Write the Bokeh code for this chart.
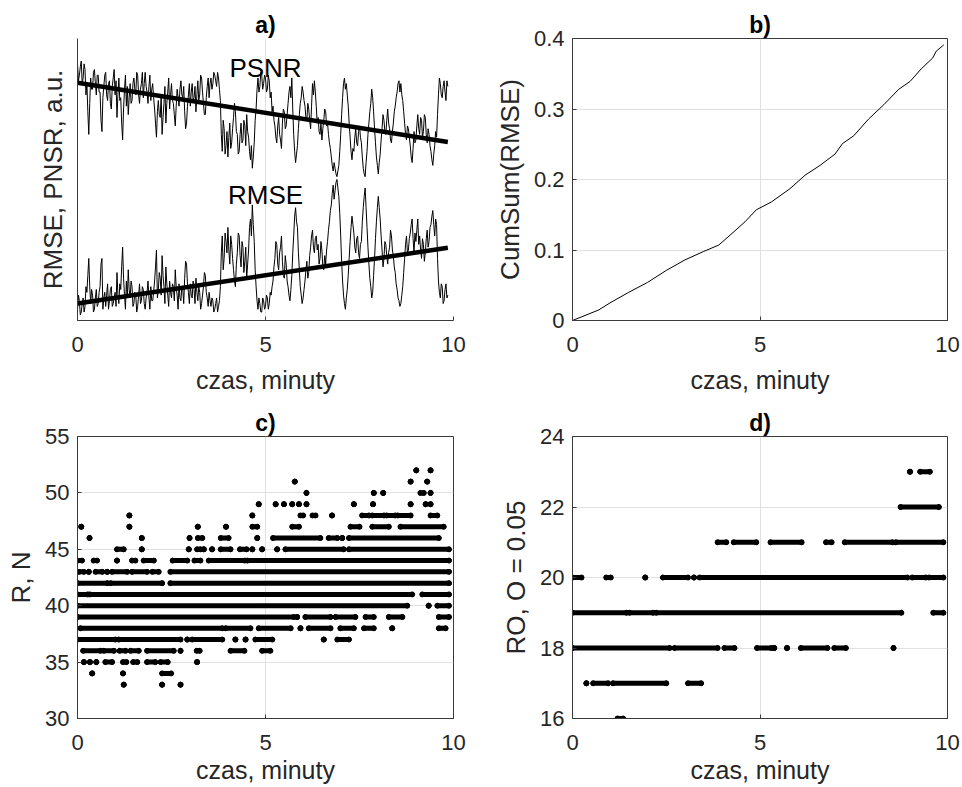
from bokeh.plotting import figure
from bokeh.layouts import gridplot
from bokeh.models import Range1d, FixedTicker, Label, ColumnDataSource
from bokeh.embed import file_html
from bokeh.resources import INLINE

FONT = "Liberation Sans"
AX = "#3a3a3a"
GRID = "#e0e0e0"

# ---------------- panel a) : RMSE and PSNR (a.u.) sampled every 0.025 min ----------------
rmse = [4, 9, 7, 2, 3, 6, 8, 3, 5, 12, 10, 16, 22, 12, 6, 11, 9, 3, 4, 8,
        11, 5, 6, 10, 12, 20, 22, 4, 8, 10, 5, 9, 13, 4, 7, 11, 12, 5, 6, 8,
        10, 5, 17, 9, 6, 13, 11, 19, 26, 15, 9, 4, 14, 8, 18, 11, 8, 14, 12, 5,
        6, 10, 9, 3, 5, 9, 13, 6, 7, 12, 11, 6, 4, 8, 10, 14, 8, 4, 12, 7,
        7, 10, 14, 19, 25, 8, 11, 17, 15, 9, 23, 16, 12, 6, 19, 13, 9, 5, 14, 10,
        8, 13, 12, 7, 18, 12, 9, 4, 13, 8, 7, 12, 11, 6, 15, 21, 20, 13, 10, 6,
        13, 9, 8, 14, 11, 6, 15, 10, 7, 12, 10, 4, 6, 9, 12, 17, 16, 10, 8, 5,
        10, 7, 5, 8, 7, 3, 4, 6, 8, 3, 5, 7, 12, 24, 30, 18, 22, 31, 28, 24,
        33, 25, 20, 30, 27, 22, 18, 14, 12, 20, 24, 31, 30, 23, 19, 28, 26, 17, 21, 26,
        15, 20, 25, 33, 36, 30, 41, 34, 28, 18, 12, 7, 4, 8, 6, 3, 3, 8, 7, 4,
        5, 9, 8, 4, 6, 10, 9, 12, 14, 19, 22, 28, 27, 20, 18, 24, 26, 30, 21, 16,
        15, 23, 20, 14, 12, 9, 7, 11, 16, 24, 30, 37, 40, 35, 33, 24, 18, 12, 9, 6,
        8, 11, 14, 18, 21, 15, 17, 23, 26, 30, 32, 26, 24, 29, 30, 25, 27, 20, 22, 28,
        25, 19, 18, 23, 20, 25, 28, 32, 35, 39, 41, 45, 48, 43, 46, 49, 50, 47, 44, 38,
        30, 21, 14, 9, 6, 4, 8, 11, 16, 22, 28, 33, 37, 34, 31, 26, 24, 29, 30, 24,
        22, 27, 28, 35, 40, 44, 47, 40, 33, 26, 20, 15, 12, 8, 10, 16, 22, 29, 35, 40,
        44, 40, 36, 30, 25, 19, 22, 28, 27, 23, 20, 24, 26, 32, 30, 25, 23, 19, 17, 13,
        11, 8, 7, 5, 6, 9, 12, 17, 22, 27, 30, 24, 25, 29, 31, 34, 36, 29, 24, 31,
        28, 32, 36, 27, 30, 25, 22, 29, 27, 21, 24, 29, 32, 26, 28, 33, 34, 37, 39, 34,
        30, 36, 34, 22, 14, 10, 8, 13, 12, 6, 7, 11, 13, 8, 9]
psnr = [91, 85, 87, 90, 92, 84, 86, 91, 89, 80, 84, 74, 66, 77, 86, 82, 82, 88, 89, 84,
        80, 87, 87, 81, 81, 71, 67, 79, 83, 87, 88, 80, 78, 84, 85, 77, 75, 83, 86, 89,
        80, 85, 72, 80, 86, 78, 79, 70, 64, 75, 82, 87, 76, 83, 73, 79, 84, 77, 78, 84,
        86, 82, 80, 88, 87, 80, 77, 82, 84, 88, 79, 84, 88, 83, 81, 77, 83, 87, 78, 82,
        84, 79, 75, 70, 65, 74, 78, 73, 72, 80, 66, 72, 77, 83, 70, 77, 81, 86, 75, 80,
        84, 78, 77, 73, 69, 76, 82, 79, 76, 82, 85, 80, 79, 83, 74, 68, 70, 76, 80, 84,
        76, 81, 84, 78, 79, 83, 74, 80, 85, 78, 80, 87, 86, 81, 77, 73, 73, 79, 83, 86,
        79, 84, 86, 82, 84, 88, 87, 85, 83, 88, 86, 82, 78, 66, 60, 71, 68, 59, 62, 67,
        58, 65, 70, 61, 63, 68, 72, 77, 74, 67, 66, 59, 60, 66, 70, 63, 64, 71, 69, 62,
        73, 67, 65, 60, 57, 62, 54, 58, 63, 71, 75, 82, 86, 81, 83, 88, 87, 82, 84, 87,
        86, 81, 82, 87, 85, 79, 81, 74, 76, 71, 69, 65, 63, 69, 72, 66, 64, 61, 70, 75,
        74, 68, 69, 73, 77, 81, 83, 79, 86, 75, 66, 60, 56, 59, 62, 68, 73, 77, 79, 83,
        81, 78, 76, 72, 71, 77, 75, 71, 68, 76, 84, 80, 85, 81, 76, 70, 72, 67, 66, 70,
        64, 68, 71, 75, 74, 69, 70, 66, 63, 61, 58, 55, 53, 56, 54, 52, 51, 53, 55, 60,
        66, 73, 79, 84, 86, 82, 84, 80, 76, 70, 65, 60, 57, 61, 60, 65, 68, 63, 62, 67,
        69, 65, 63, 58, 54, 52, 51, 56, 60, 66, 70, 74, 77, 82, 79, 74, 68, 63, 58, 55,
        52, 56, 59, 64, 68, 73, 71, 67, 66, 71, 75, 70, 68, 64, 63, 67, 70, 74, 76, 79,
        81, 84, 85, 81, 84, 80, 78, 74, 70, 66, 64, 69, 68, 65, 62, 58, 56, 61, 67, 63,
        64, 69, 73, 68, 66, 72, 71, 65, 67, 73, 72, 66, 63, 68, 66, 62, 60, 57, 55, 59,
        62, 67, 65, 73, 80, 86, 84, 80, 79, 83, 85, 81, 78, 85, 83]
t_a = [round(i * 0.025, 3) for i in range(len(rmse))]
trend_t = [0.0, 9.85]
trend_psnr = [84.3, 63.3]
trend_rmse = [6.0, 25.8]

# ---------------- panel b) : cumulative sum of RMSE ----------------
cum_t = [0, 0.7, 1.0, 1.5, 2.0, 2.5, 3.0, 3.5, 3.9, 4.2, 4.6, 4.9, 5.3, 5.8, 6.2,
         6.6, 7.0, 7.2, 7.5, 7.9, 8.3, 8.7, 9.0, 9.3, 9.6, 9.7, 9.9]
cum_v = [0, 0.015, 0.025, 0.040, 0.054, 0.071, 0.086, 0.098, 0.107, 0.121, 0.140,
         0.157, 0.168, 0.187, 0.206, 0.220, 0.236, 0.251, 0.262, 0.286, 0.306, 0.328,
         0.339, 0.357, 0.372, 0.382, 0.391]

# ---------------- panel c) : R, N  (runs of samples at integer levels) ----------------
c_runs = {
    52: [(9.01, 9.01), (9.39, 9.39)],
    51: [(5.78, 5.78), (8.86, 8.86), (9.30, 9.30)],
    50: [(6.09, 6.09), (7.88, 7.88), (8.13, 8.13), (9.12, 9.21), (9.39, 9.39)],
    49: [(4.82, 4.82), (5.27, 5.27), (5.49, 5.49), (5.71, 5.71), (5.89, 5.89), (6.09, 6.09),
         (7.35, 7.35), (7.86, 7.86), (8.86, 8.86), (9.26, 9.26), (9.39, 9.39)],
    48: [(1.38, 1.38), (4.65, 4.65), (5.93, 6.0), (6.25, 6.33), (6.77, 6.77), (7.57, 7.75),
         (7.84, 8.15), (8.22, 8.45), (8.52, 8.86), (9.39, 9.57)],
    47: [(0.1, 0.1), (1.38, 1.38), (3.2, 3.2), (3.95, 3.95), (4.65, 4.78), (5.71, 5.89),
         (7.26, 7.5), (7.84, 8.28), (8.59, 9.74)],
    46: [(0.32, 0.32), (1.71, 1.71), (2.98, 2.98), (3.2, 3.32), (3.81, 4.02), (4.78, 4.78),
         (5.2, 6.46), (6.68, 6.91), (7.04, 7.04), (7.22, 9.61)],
    45: [(1.05, 1.23), (1.71, 1.71), (2.96, 2.96), (3.18, 3.27), (3.36, 3.36), (3.58, 3.58),
         (3.81, 4.07), (4.32, 4.5), (4.65, 4.65), (4.91, 4.91), (5.31, 5.31), (5.53, 7.08),
         (7.22, 9.88)],
    44: [(0.0, 0.12), (0.43, 0.52), (1.05, 1.05), (1.45, 1.54), (1.76, 2.03), (2.53, 2.92),
         (3.11, 3.27), (3.49, 4.45), (4.52, 9.88)],
    43: [(0.04, 0.17), (0.3, 0.3), (0.48, 0.66), (0.79, 0.79), (0.92, 1.32), (1.45, 1.85),
         (1.99, 2.16), (2.47, 9.88)],
    42: [(0.0, 0.79), (0.88, 2.25), (2.47, 9.88)],
    41: [(0.0, 0.27), (0.33, 8.9), (9.17, 9.88)],
    40: [(0.0, 8.77), (9.34, 9.34), (9.57, 9.88)],
    39: [(0.0, 5.75), (5.84, 5.84), (6.06, 6.73), (6.86, 7.39), (7.66, 7.88), (8.28, 8.64),
         (9.61, 9.88)],
    38: [(0.08, 3.85), (3.94, 4.6), (4.82, 5.67), (5.93, 5.93), (6.15, 6.73), (6.99, 7.35),
         (7.62, 7.88), (8.37, 8.37), (9.61, 9.79)],
    37: [(0.0, 1.01), (1.1, 2.74), (2.92, 2.92), (3.05, 3.85), (4.2, 4.2), (4.47, 4.47),
         (4.73, 5.18), (6.55, 6.55), (6.91, 7.22)],
    36: [(0.15, 0.61), (0.7, 0.97), (1.12, 1.28), (1.41, 1.63), (1.85, 2.56), (2.74, 2.74),
         (3.17, 3.25), (4.07, 4.44), (4.91, 5.13)],
    35: [(0.17, 0.17), (0.33, 0.33), (0.5, 0.5), (0.74, 0.92), (1.21, 1.3), (1.48, 1.59),
         (1.85, 2.07), (2.21, 2.4), (3.18, 3.18)],
    34: [(0.39, 0.39), (1.21, 1.21), (2.25, 2.49)],
    33: [(1.23, 1.23), (2.25, 2.25), (2.74, 2.74)],
}

# ---------------- panel d) : RO, O = 0.05 ----------------
d_runs = {
    23: [(9.0, 9.0), (9.27, 9.53)],
    22: [(8.75, 9.77)],
    21: [(3.87, 4.1), (4.3, 4.9), (5.28, 6.11), (6.76, 6.91), (7.26, 8.53), (8.62, 9.89)],
    20: [(0.0, 0.24), (0.9, 1.02), (1.94, 1.94), (2.41, 3.08), (3.24, 3.24), (3.39, 8.93),
         (9.06, 9.42), (9.51, 9.89)],
    19: [(0.0, 1.44), (1.52, 2.15), (2.23, 8.77), (9.62, 9.89)],
    18: [(0.0, 2.59), (2.72, 3.87), (4.05, 4.32), (4.92, 5.3), (5.38, 5.38), (5.72, 5.72),
         (6.09, 6.8), (6.98, 7.29), (8.56, 8.56)],
    17: [(0.37, 0.37), (0.55, 0.95), (1.08, 2.5), (3.08, 3.43)],
    16: [(1.2, 1.35)],
}

X_TICKS = [0, 5, 10]


def runs_source(runs):
    lv, x0, x1 = [], [], []
    for level, segs in runs.items():
        for a, b in segs:
            lv.append(level)
            x0.append(a)
            x1.append(b)
    return ColumnDataSource(dict(y=lv, x0=x0, x1=x1))


def make_fig(width, height, left, right, top, bottom, y_range, title, box=True):
    p = figure(width=width, height=height, x_range=Range1d(0, 10), y_range=y_range,
               output_backend="svg", toolbar_location=None, title=title,
               min_border_left=left, min_border_right=right,
               min_border_top=top, min_border_bottom=bottom)
    p.background_fill_color = "white"
    p.border_fill_color = "white"
    p.outline_line_color = AX if box else None
    p.outline_line_width = 1
    p.title.align = "center"
    p.title.text_font = FONT
    p.title.text_font_style = "bold"
    p.title.text_font_size = "23px"
    p.title.text_color = "black"
    p.title.standoff = 2
    for ax in (p.xaxis[0], p.yaxis[0]):
        ax.axis_line_color = AX
        ax.major_tick_line_color = AX
        ax.major_tick_in = 4
        ax.major_tick_out = 0
        ax.minor_tick_line_color = None
        ax.major_label_text_font = FONT
        ax.major_label_text_font_size = "22px"
        ax.major_label_text_color = "#262626"
        ax.axis_label_text_font = FONT
        ax.axis_label_text_font_style = "normal"
        ax.axis_label_text_color = "#262626"
    p.xaxis.ticker = FixedTicker(ticks=X_TICKS)
    p.xaxis.major_label_standoff = 16
    p.xaxis.axis_label = "czas, minuty"
    p.xaxis.axis_label_text_font_size = "25px"
    p.xaxis.axis_label_standoff = 11
    p.yaxis.major_label_standoff = 8
    p.yaxis.axis_label_standoff = 6
    p.yaxis.axis_label_text_font_size = "26px"
    p.xgrid.grid_line_color = GRID
    p.ygrid.grid_line_color = GRID
    return p


W1, W2 = 475, 486
H1, H2 = 396, 390

# a)
pa = make_fig(W1, H1, 77, 22, 38, 76, Range1d(0, 100), "a)", box=False)
pa.yaxis.ticker = FixedTicker(ticks=[])
pa.yaxis.axis_label = "RMSE, PNSR, a.u."
pa.yaxis.axis_label_standoff = 10
pa.ygrid.grid_line_color = None
pa.line(t_a, psnr, line_color="black", line_width=1)
pa.line(t_a, rmse, line_color="black", line_width=1)
pa.line(trend_t, trend_psnr, line_color="black", line_width=4.5)
pa.line(trend_t, trend_rmse, line_color="black", line_width=4.5)
pa.add_layout(Label(x=5.0, y=89.5, text="PSNR", text_align="center", text_baseline="middle",
                    text_font=FONT, text_font_size="26px", text_color="black"))
pa.add_layout(Label(x=5.0, y=44.5, text="RMSE", text_align="center", text_baseline="middle",
                    text_font=FONT, text_font_size="26px", text_color="black"))

# b)
pb = make_fig(W2, H1, 97, 14, 38, 76, Range1d(0, 0.4), "b)")
pb.yaxis.ticker = FixedTicker(ticks=[0, 0.1, 0.2, 0.3, 0.4])
pb.yaxis.major_label_overrides = {0: "0"}
pb.yaxis.axis_label = "CumSum(RMSE)"
pb.line(cum_t, cum_v, line_color="black", line_width=1)

# c)
pc = make_fig(W1, H2, 77, 22, 40, 68, Range1d(30, 55), "c)")
pc.yaxis.ticker = FixedTicker(ticks=[30, 35, 40, 45, 50, 55])
pc.yaxis.axis_label = "R, N"
pc.yaxis.axis_label_standoff = 6
pc.xaxis.axis_label_standoff = 3
srcc = runs_source(c_runs)
pc.segment(x0="x0", y0="y", x1="x1", y1="y", source=srcc, line_color="black",
           line_width=5, line_cap="round")
pc.scatter(x="x0", y="y", source=srcc, size=5, color="black")
pc.scatter(x="x1", y="y", source=srcc, size=5, color="black")

# d)
pd_ = make_fig(W2, H2, 97, 14, 40, 68, Range1d(16, 24), "d)")
pd_.yaxis.ticker = FixedTicker(ticks=[16, 18, 20, 22, 24])
pd_.yaxis.axis_label = "RO, O = 0.05"
pd_.xaxis.axis_label_standoff = 3
srcd = runs_source(d_runs)
pd_.segment(x0="x0", y0="y", x1="x1", y1="y", source=srcd, line_color="black",
            line_width=5, line_cap="round")
pd_.scatter(x="x0", y="y", source=srcd, size=5, color="black")
pd_.scatter(x="x1", y="y", source=srcd, size=5, color="black")

grid = gridplot([[pa, pb], [pc, pd_]], toolbar_location=None)

open("out.html", "w").write(file_html(grid, INLINE))
